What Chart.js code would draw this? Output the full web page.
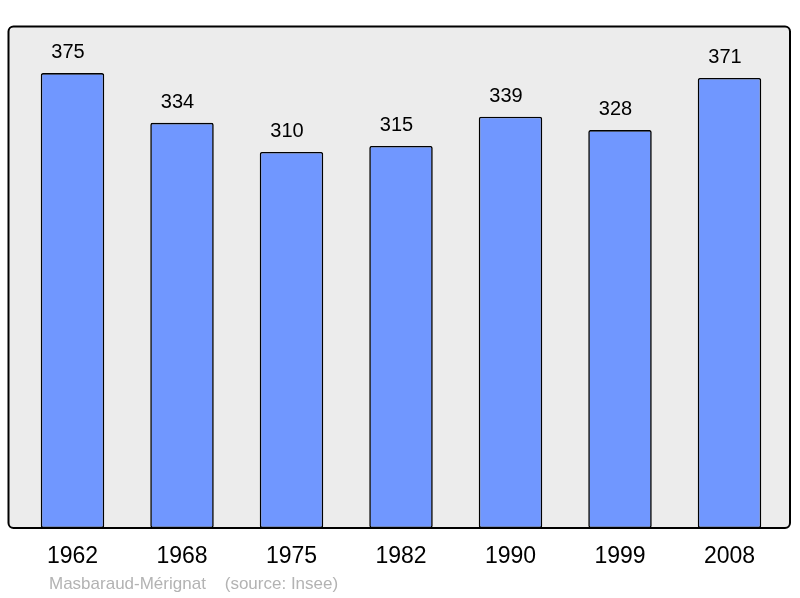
<!DOCTYPE html>
<html>
<head>
<meta charset="utf-8">
<script src="https://cdn.jsdelivr.net/npm/chart.js@4"></script>
<style>
  html, body { margin: 0; padding: 0; background: #ffffff; }
  #wrap { width: 800px; height: 598px; }
</style>
</head>
<body>
<div id="wrap"><canvas id="popChart" width="800" height="598"></canvas></div>
<script>
const years = ["1962", "1968", "1975", "1982", "1990", "1999", "2008"];
const population = [375, 334, 310, 315, 339, 328, 371];
const sourceText = "Masbaraud-Mérignat    (source: Insee)";

const frame = { left: 8.5, top: 26.5, right: 790, bottom: 528, radius: 5 };

function framePath(ctx) {
  const f = frame;
  ctx.beginPath();
  ctx.moveTo(f.left + f.radius, f.top);
  ctx.lineTo(f.right - f.radius, f.top);
  ctx.arcTo(f.right, f.top, f.right, f.top + f.radius, f.radius);
  ctx.lineTo(f.right, f.bottom - f.radius);
  ctx.arcTo(f.right, f.bottom, f.right - f.radius, f.bottom, f.radius);
  ctx.lineTo(f.left + f.radius, f.bottom);
  ctx.arcTo(f.left, f.bottom, f.left, f.bottom - f.radius, f.radius);
  ctx.lineTo(f.left, f.top + f.radius);
  ctx.arcTo(f.left, f.top, f.left + f.radius, f.top, f.radius);
  ctx.closePath();
}

const framePlugin = {
  id: "frame",
  beforeDraw(chart) {
    const ctx = chart.ctx;
    ctx.save();
    framePath(ctx);
    ctx.fillStyle = "#ececec";
    ctx.fill();
    ctx.restore();
  },
  afterDatasetsDraw(chart) {
    const ctx = chart.ctx;
    ctx.save();
    // value labels above the bars (sit a little left of centre, as in the original)
    ctx.font = "20px 'Liberation Sans', Arial, sans-serif";
    ctx.fillStyle = "#000000";
    ctx.textAlign = "center";
    ctx.textBaseline = "alphabetic";
    chart.getDatasetMeta(0).data.forEach((bar, i) => {
      ctx.fillText(String(population[i]), bar.x - 4.5, bar.y - 15);
    });
    framePath(ctx);
    ctx.lineWidth = 2;
    ctx.strokeStyle = "#000000";
    ctx.stroke();
    // source line
    ctx.font = "17px 'Liberation Sans', Arial, sans-serif";
    ctx.fillStyle = "#b3b3b3";
    ctx.textAlign = "left";
    ctx.fillText(sourceText, 49, 589);
    ctx.restore();
  }
};

new Chart(document.getElementById("popChart"), {
  type: "bar",
  data: {
    labels: years,
    datasets: [{
      data: population,
      backgroundColor: "#7097ff",
      borderColor: "#000000",
      borderWidth: 1.6,
      borderRadius: 2,
      borderSkipped: false,
      categoryPercentage: 1,
      barPercentage: 0.58
    }]
  },
  options: {
    responsive: false,
    animation: false,
    layout: { padding: { left: 17.75, right: 15.75, top: 27, bottom: 0 } },
    plugins: { legend: { display: false }, tooltip: { enabled: false } },
    scales: {
      x: {
        grid: { display: false, drawTicks: false },
        border: { display: false },
        ticks: {
          color: "#000000",
          padding: 15,
          font: { family: "'Liberation Sans', Arial, sans-serif", size: 23 }
        },
        afterFit(scale) { scale.height = 70; }
      },
      y: {
        display: false,
        min: 0,
        max: 413
      }
    }
  },
  plugins: [framePlugin]
});
</script>
</body>
</html>
